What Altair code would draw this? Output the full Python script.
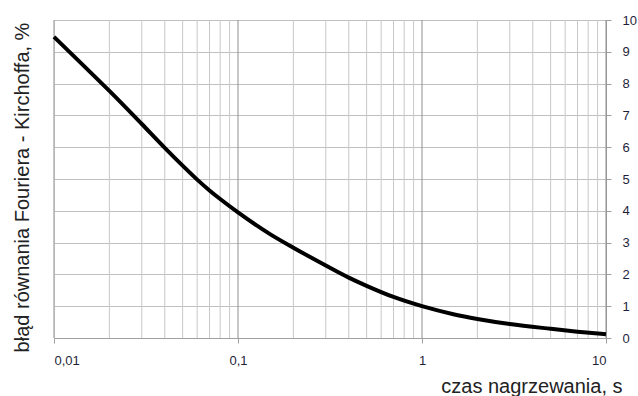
import altair as alt
import pandas as pd

# curve
t_s = [0.01, 0.015, 0.02, 0.03, 0.04, 0.05, 0.06, 0.07, 0.08, 0.1, 0.15, 0.2, 0.3, 0.4, 0.5, 0.7, 1, 1.5, 2, 3, 5, 7, 10]
err_pct = [9.47, 8.48, 7.77, 6.73, 5.98, 5.42, 4.98, 4.64, 4.37, 3.95, 3.26, 2.84, 2.28, 1.9, 1.64, 1.29, 1.0, 0.74, 0.6, 0.44, 0.29, 0.2, 0.12]

major_x = [0.01, 0.1, 1, 10]
minor_x = [m * d for d in [0.01, 0.1, 1] for m in range(2, 10)]
y_ticks = list(range(0, 11))

W, H = 552, 318
FONT = "Liberation Sans"
LABEL_COLOR = "#1f1f3a"

df = pd.DataFrame({"t": t_s, "e": err_pct})
minor_df = pd.DataFrame({"t": minor_x})
major_df = pd.DataFrame({"t": major_x})

xscale = alt.Scale(type="log", domain=[0.01, 10], nice=False)
yscale = alt.Scale(domain=[0, 10], nice=False)

x_axis = alt.Axis(
    values=major_x,
    labelExpr="replace(format(datum.value, '~g'), '.', ',')",
    grid=False, domain=True, domainColor="#a0a0a0",
    ticks=True, tickSize=5, tickColor="#a0a0a0",
    labelFont=FONT, labelFontSize=13, labelColor=LABEL_COLOR, labelPadding=11,
    title="czas nagrzewania, s", titleFont=FONT, titleFontSize=20,
    titleFontWeight="normal", titleColor="#222222",
    titleAnchor="end", titleAlign="right", titleX=W + 16, titleY=54,
    titleBaseline="alphabetic",
)

y_axis = alt.Axis(
    orient="right", values=y_ticks, format="d",
    grid=True, gridColor="#c0c0c0", gridWidth=1,
    domain=True, domainColor="#a0a0a0",
    ticks=True, tickSize=5, tickColor="#a0a0a0",
    labelFont=FONT, labelFontSize=13, labelColor=LABEL_COLOR, labelPadding=11,
    title="błąd równania Fouriera - Kirchoffa, %", titleFont=FONT,
    titleFontSize=20, titleFontWeight="normal", titleColor="#222222",
    titleAngle=270, titleX=-(W + 26), titleY=167,
    titleAlign="center", titleBaseline="alphabetic",
)

line = alt.Chart(df).mark_line(color="#000000", strokeWidth=4, interpolate="monotone").encode(
    x=alt.X("t:Q", scale=xscale, axis=x_axis),
    y=alt.Y("e:Q", scale=yscale, axis=y_axis),
)
minor = alt.Chart(minor_df).mark_rule(color="#c8c8c8", strokeWidth=1).encode(
    x=alt.X("t:Q", scale=xscale, axis=x_axis)
)
major = alt.Chart(major_df).mark_rule(color="#8f8f8f", strokeWidth=1).encode(
    x=alt.X("t:Q", scale=xscale, axis=x_axis)
)

chart = alt.layer(minor, major, line).properties(
    width=W, height=H,
    autosize=alt.AutoSizeParams(type="none"),
    padding={"left": 54, "top": 20, "right": 32, "bottom": 58},
).configure_view(stroke=None).configure(background="white")

chart.save("out.html", embed_options={"renderer": "svg", "actions": False})
